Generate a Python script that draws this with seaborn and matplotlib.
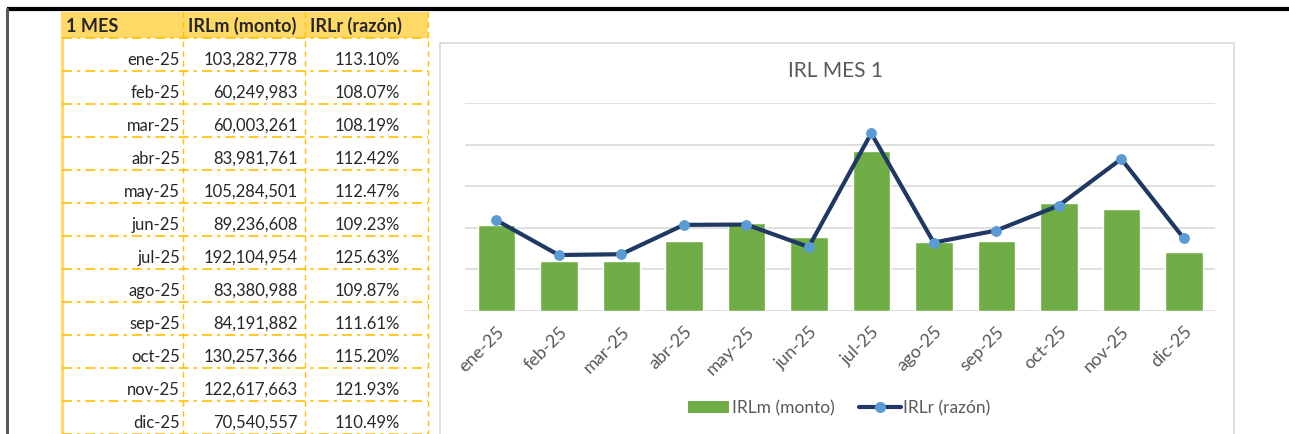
import numpy as np
import pandas as pd
import seaborn as sns
from matplotlib import pyplot as plt
from matplotlib.patches import Patch, Rectangle
from matplotlib.lines import Line2D

months = ['ene-25', 'feb-25', 'mar-25', 'abr-25', 'may-25', 'jun-25',
          'jul-25', 'ago-25', 'sep-25', 'oct-25', 'nov-25', 'dic-25']
monto = [103282778, 60249983, 60003261, 83981761, 105284501, 89236608,
         192104954, 83380988, 84191882, 130257366, 122617663, 70540557]
razon = [113.10, 108.07, 108.19, 112.42, 112.47, 109.23,
         125.63, 109.87, 111.61, 115.20, 121.93, 110.49]
headers = ['1 MES', 'IRLm (monto)', 'IRLr (razón)']

df = pd.DataFrame({'mes': months, 'monto': monto, 'razon': razon})

sns.set_style('white')
plt.rcParams['font.family'] = ['Lato', 'DejaVu Sans']

green = '#70AD47'
navy = '#1F3864'
blue = '#5B9BD5'
grey_txt = '#595959'
orange = '#FFC000'

W, H = 1289, 434
fig = plt.figure(figsize=(W / 100, H / 100), dpi=100)

# background axes in pixel coords for table + frame
bg = fig.add_axes([0, 0, 1, 1])
bg.set_xlim(0, W)
bg.set_ylim(H, 0)
bg.axis('off')

# outer frame
bg.plot([7, W], [9, 9], color='black', lw=3, solid_capstyle='butt')
bg.plot([7, 7], [9, H], color='#595959', lw=2.2)

# table
col_x = [62, 183, 305, 428]
head_top, head_bot = 12, 38
row_h = 33
bg.add_patch(Rectangle((col_x[0], head_top), col_x[-1] - col_x[0], head_bot - head_top,
                       facecolor='#FFD966', edgecolor='none'))
bg.plot([col_x[0], col_x[0]], [head_top, H], color='#FFD966', lw=2.2)
for cx in col_x[1:]:
    bg.plot([cx, cx], [head_top, H], color=orange, lw=1, ls=(0, (4, 3)))
for i in range(len(months) + 1):
    yy = head_bot + i * row_h
    bg.plot([col_x[0], col_x[-1]], [yy, yy], color=orange, lw=1.2, ls=(0, (6, 3, 2, 3)))

hx = [66, 188, 310]
for x, h in zip(hx, headers):
    bg.text(x, head_bot - 6, h, fontsize=13, fontweight='bold', va='baseline', ha='left')
for i, row in df.iterrows():
    yb = head_bot + (i + 1) * row_h - 6
    bg.text(180, yb, row['mes'], fontsize=12, ha='right', va='baseline')
    bg.text(298, yb, f"{row['monto']:,}", fontsize=12, ha='right', va='baseline')
    bg.text(400, yb, f"{row['razon']:.2f}%", fontsize=12, ha='right', va='baseline')

# chart box
bg.add_patch(Rectangle((440, 43), 1234 - 440, H, facecolor='white', edgecolor='#D9D9D9', lw=1.2))
bg.text(836, 71, 'IRL MES 1', fontsize=15, color=grey_txt, ha='center', va='center')

# chart
ax = fig.add_axes([465 / W, 1 - 311 / H, 750 / W, 208 / H])
sns.barplot(data=df, x='mes', y='monto', color=green, saturation=1, width=0.6, ax=ax, zorder=2)
ax.set_ylim(0, 250e6)
ax.set_yticks(np.arange(0, 250e6 + 1, 50e6))
ax.yaxis.grid(True, color='#D9D9D9', lw=1.2)
ax.set_axisbelow(True)
ax.set_ylabel('')
ax.set_xlabel('')
ax.tick_params(axis='both', which='both', length=0, labelleft=False)
ax.tick_params(axis='x', pad=9)
plt.setp(ax.get_xticklabels(), rotation=45, ha='right', rotation_mode='anchor',
         fontsize=13, color=grey_txt)
ax.set_xlim(-0.5, len(months) - 0.5)
for s in ax.spines.values():
    s.set_visible(False)

ax2 = ax.twinx()
sns.lineplot(x=np.arange(len(months)), y=df['razon'], ax=ax2, color=navy, lw=3,
             marker='o', markersize=7, markerfacecolor=blue, markeredgecolor=blue)
ax2.set_ylim(100, 130)
ax2.set_ylabel('')
ax2.tick_params(axis='both', which='both', length=0, labelright=False)
for s in ax2.spines.values():
    s.set_visible(False)

handles = [Patch(facecolor=green, edgecolor='none'),
           Line2D([], [], color=navy, lw=3, marker='o', markersize=7,
                  markerfacecolor=blue, markeredgecolor=blue)]
fig.legend(handles, ['IRLm (monto)', 'IRLr (razón)'], loc='center',
           bbox_to_anchor=(839 / W, 1 - 408 / H), ncol=2, frameon=False,
           fontsize=12.5, labelcolor=grey_txt, handlelength=2.4, handletextpad=0.15,
           columnspacing=1.4)

fig.savefig('out.png', dpi=100)
